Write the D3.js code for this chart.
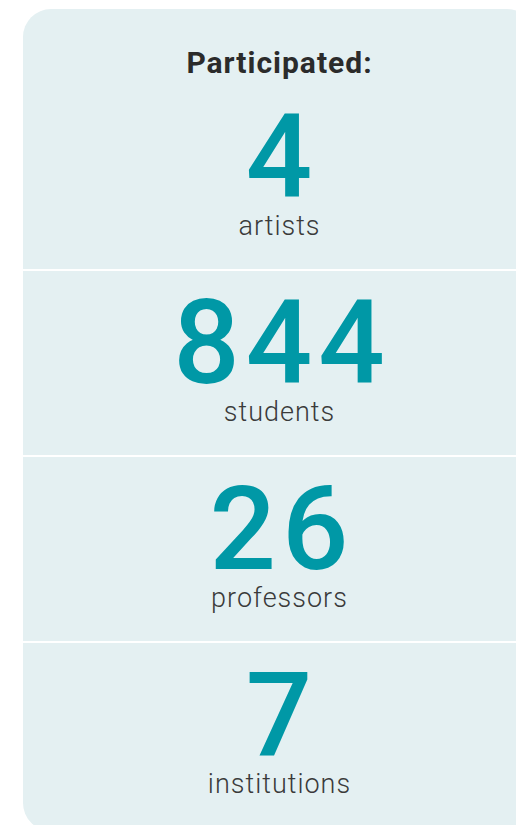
<!DOCTYPE html>
<html>
<head>
<meta charset="utf-8">
<script src="https://cdn.jsdelivr.net/npm/d3@7"></script>
<style>
  html, body { margin: 0; padding: 0; background: #ffffff; }
  svg { display: block; }
</style>
</head>
<body>
<div id="chart"></div>
<script>
// chart data
var title = "Participated:";
var values = [4, 844, 26, 7];
var labels = ["artists", "students", "professors", "institutions"];

var width = 516, height = 825;
var card = { x: 23, y: 9, w: 512, h: 822, r: 28 };
var cx = card.x + card.w / 2;

var svg = d3.select("#chart").append("svg")
    .attr("width", width)
    .attr("height", height);

svg.append("defs").append("clipPath")
    .attr("id", "cardClip")
    .append("rect")
    .attr("x", card.x).attr("y", card.y)
    .attr("width", card.w).attr("height", card.h)
    .attr("rx", card.r).attr("ry", card.r);

var g = svg.append("g").attr("clip-path", "url(#cardClip)");

g.append("rect")
    .attr("x", card.x).attr("y", card.y)
    .attr("width", card.w).attr("height", card.h)
    .style("fill", "#e4f0f2");

// one band per figure, header sits above the first band
var y = d3.scaleBand()
    .domain(labels)
    .range([84, 828]);

g.append("text")
    .attr("x", cx + 0.5)
    .attr("y", 73)
    .attr("text-anchor", "middle")
    .style("font", "700 30px Roboto, sans-serif")
    .style("letter-spacing", "1px")
    .style("fill", "#2b2b2b")
    .text(title);

// white separators between bands
g.selectAll(".sep").data(labels.slice(1)).enter().append("rect")
    .classed("sep", true)
    .attr("x", card.x)
    .attr("y", function (d) { return y(d) - 1; })
    .attr("width", card.w)
    .attr("height", 2)
    .style("fill", "#ffffff");

var rows = g.selectAll(".row").data(labels).enter().append("g")
    .classed("row", true)
    .attr("transform", function (d) { return "translate(0," + y(d) + ")"; });

rows.append("text")
    .attr("x", cx + 3)
    .attr("y", 113)
    .attr("text-anchor", "middle")
    .style("font", "500 117px Roboto, sans-serif")
    .style("letter-spacing", "6px")
    .style("fill", "#0098a6")
    .text(function (d, i) { return values[i]; });

rows.append("text")
    .attr("x", cx + 0.5)
    .attr("y", 151)
    .attr("text-anchor", "middle")
    .style("font", "300 27px Roboto, sans-serif")
    .style("letter-spacing", "1px")
    .style("fill", "#3a3a3a")
    .text(function (d) { return d; });
</script>
</body>
</html>
